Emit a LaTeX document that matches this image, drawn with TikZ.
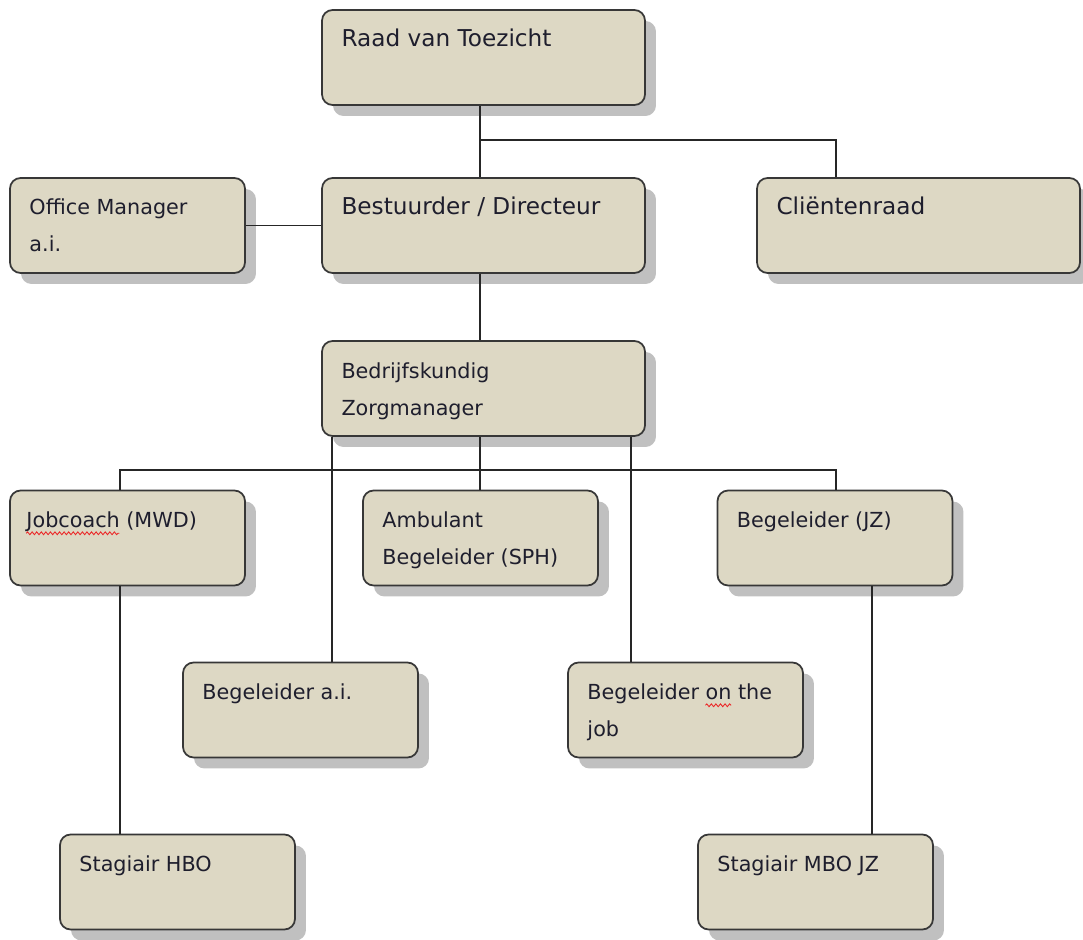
\documentclass[tikz,border=0pt]{standalone}
\usepackage{fontspec}
\usepackage{xcolor}
\usepackage{tikz}
\usetikzlibrary{shadows, positioning, calc, decorations.pathmorphing}
\newfontfamily\orgfont{DejaVu Sans}
\definecolor{boxfill}{RGB}{221, 216, 196}
\definecolor{boxline}{RGB}{55, 55, 55}
\definecolor{boxshadow}{RGB}{192, 192, 192}
\definecolor{labeltext}{RGB}{30, 30, 45}
\definecolor{spellred}{RGB}{235, 40, 40}
\newcommand{\subfont}{\orgfont\fontsize{11.8}{21}\selectfont}
\newlength{\wavelenA}
\newlength{\wavelenB}
\newlength{\waveskip}
\tikzset{
  orgbox/.style={draw=boxline, line width=1pt, fill=boxfill, rounded corners=6pt, minimum height=1.9cm,
    drop shadow={shadow xshift=0.22cm, shadow yshift=-0.22cm, fill=boxshadow, opacity=1}},
  widebox/.style={orgbox, minimum width=6.46cm},
  smallbox/.style={orgbox, minimum width=4.7cm},
  toptext/.style={anchor=base west, inner sep=0pt, align=left, text=labeltext, font=\orgfont\fontsize{13.2}{21}\selectfont},
  subtext/.style={toptext, font=\subfont},
  twoline/.style={yshift=-21pt},
  link/.style={line width=0.9pt, black!85},
  spellwave/.style={draw=spellred, line width=0.5pt, decorate, decoration={snake, amplitude=0.8pt, segment length=2.6pt}}
}
\begin{document}
\settowidth{\wavelenA}{\subfont Jobcoach}%
\settowidth{\waveskip}{\subfont Begeleider\ }%
\settowidth{\wavelenB}{\subfont on}%
\begin{tikzpicture}[x=0.02cm, y=-0.02cm]
        \useasboundingbox (0,0) rectangle (1083,940);

        % Raad van Toezicht
        \node[widebox] (raad) at (483.5, 57.5) {};
        \node[toptext] (raad-t) at ([xshift=0.4cm, yshift=-0.75cm]raad.north west) {Raad van Toezicht};

        % Bestuur
        \node[smallbox] (office) at (127.5, 225.5) {};
        \node[subtext, twoline] (office-t) at ([xshift=0.4cm, yshift=-0.75cm]office.north west) {Office Manager\\a.i.};
        \node[widebox] (bestuurder) at (483.5, 225.5) {};
        \node[toptext] (bestuurder-t) at ([xshift=0.4cm, yshift=-0.75cm]bestuurder.north west) {Bestuurder / Directeur};
        \node[widebox] (clienten) at (918.5, 225.5) {};
        \node[toptext] (clienten-t) at ([xshift=0.4cm, yshift=-0.75cm]clienten.north west) {Cliëntenraad};

        % Zorgmanager
        \node[widebox] (zorg) at (483.5, 388.5) {};
        \node[subtext, twoline] (zorg-t) at ([xshift=0.4cm, yshift=-0.77cm]zorg.north west) {Bedrijfskundig\\Zorgmanager};

        % Begeleiding
        \node[smallbox] (jobcoach) at (127.5, 538) {};
        \node[subtext] (jobcoach-t) at ([xshift=0.34cm, yshift=-0.75cm]jobcoach.north west) {Jobcoach (MWD)};
        \node[smallbox] (ambulant) at (480.5, 538) {};
        \node[subtext, twoline] (ambulant-t) at ([xshift=0.4cm, yshift=-0.75cm]ambulant.north west) {Ambulant\\Begeleider (SPH)};
        \node[smallbox] (begjz) at (835, 538) {};
        \node[subtext] (begjz-t) at ([xshift=0.4cm, yshift=-0.75cm]begjz.north west) {Begeleider (JZ)};
        \node[smallbox] (begai) at (300.5, 710) {};
        \node[subtext] (begai-t) at ([xshift=0.4cm, yshift=-0.75cm]begai.north west) {Begeleider a.i.};
        \node[smallbox] (begjob) at (685.5, 710) {};
        \node[subtext, twoline] (begjob-t) at ([xshift=0.4cm, yshift=-0.75cm]begjob.north west) {Begeleider on the\\job};

        % Stagiairs
        \node[smallbox] (hbo) at (177.5, 882) {};
        \node[subtext] (hbo-t) at ([xshift=0.4cm, yshift=-0.75cm]hbo.north west) {Stagiair HBO};
        \node[smallbox] (mbo) at (815.5, 882) {};
        \node[subtext] (mbo-t) at ([xshift=0.4cm, yshift=-0.75cm]mbo.north west) {Stagiair MBO JZ};

        % Spelling marks
        \path[spellwave] (jobcoach-t.base west) ++(0pt, -3.5pt) -- ++(\wavelenA, 0pt);
        \path[spellwave] ([xshift=0.4cm, yshift=-0.75cm]begjob.north west) ++(\waveskip, -3.5pt) -- ++(\wavelenB, 0pt);

        % Lijnen
        \coordinate (bar1) at (480, 140);
        \coordinate (bar2) at (480, 470);
        \coordinate (colA) at (120, 0);
        \coordinate (colB) at (332, 0);
        \coordinate (colC) at (631, 0);
        \coordinate (colD) at (836, 0);
        \coordinate (colE) at (872, 0);
        \draw[link] (bar1 |- raad.south) -- (bar1 |- bestuurder.north);
        \draw[link] (bar1) -| (colD |- clienten.north);
        \draw[link] (office.east) -- (bestuurder.west);
        \draw[link] (bar1 |- bestuurder.south) -- (bar1 |- zorg.north);
        \draw[link] (bar2 |- zorg.south) -- (bar2 |- ambulant.north);
        \draw[link] (colA |- jobcoach.north) |- (bar2) -| (colD |- begjz.north);
        \draw[link] (colB |- zorg.south) -- (colB |- begai.north);
        \draw[link] (colC |- zorg.south) -- (colC |- begjob.north);
        \draw[link] (colA |- jobcoach.south) -- (colA |- hbo.north);
        \draw[link] (colE |- begjz.south) -- (colE |- mbo.north);
    \end{tikzpicture}
\end{document}
